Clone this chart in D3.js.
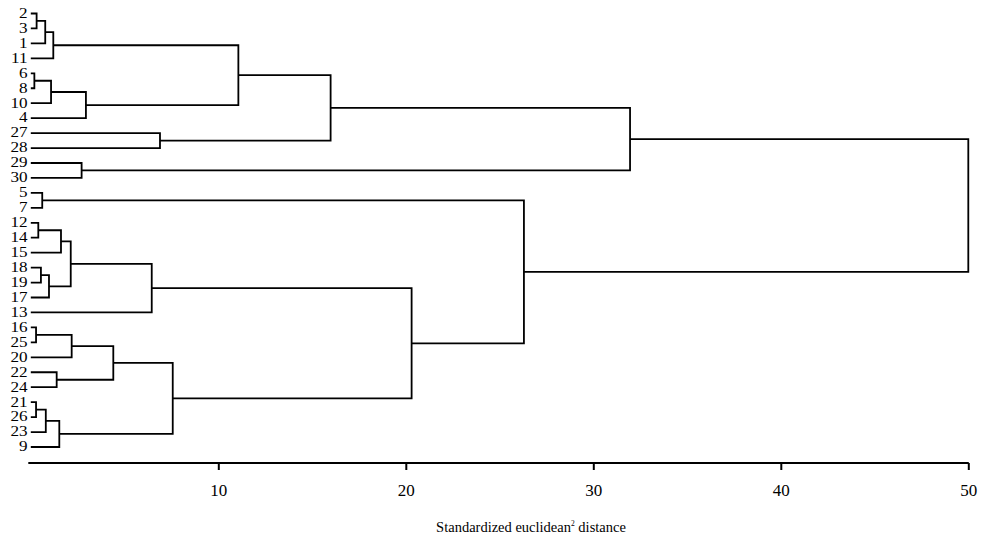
<!DOCTYPE html>
<html>
<head>
<meta charset="utf-8">
<script src="https://cdn.jsdelivr.net/npm/d3@7"></script>
<style>
  html, body { margin: 0; padding: 0; background: #fff; }
  svg { display: block; }
  svg text { font-family: "Liberation Serif", "Times New Roman", Times, "DejaVu Serif", serif; fill: #000; }
</style>
</head>
<body>
<svg id="chart" width="981" height="540"></svg>
<script>
// Leaf order (top to bottom)
const leafLabels = ["2","3","1","11","6","8","10","4","27","28","29","30","5","7",
  "12","14","15","18","19","17","13","16","25","20","22","24","21","26","23","9"];

// Agglomeration schedule: cluster id, first member, second member, distance
const mergeIds   = ["c1","c2","c3","c4","c5","c6","c7","c8","c9","c10","c11","c12","c13","c14","c15",
                    "c16","c17","c18","c19","c20","c21","c22","c23","c24","c25","c26","c27","c28","c29"];
const mergeLeft  = ["2","c1","c2","6","c4","c5","c3","27","c7","29","c9","5","12","c13","18",
                    "c15","c14","c17","16","c19","22","c20","21","c23","c24","c22","c18","c12","c11"];
const mergeRight = ["3","1","11","8","10","4","c6","28","c8","30","c10","7","14","15","19",
                    "17","c16","13","25","20","24","c21","26","23","9","c25","c26","c27","c28"];
const mergeDist  = [0.31,0.77,1.2,0.19,1.08,2.94,11.07,6.89,15.99,2.71,31.96,0.61,0.40,1.61,0.54,
                    0.97,2.13,6.45,0.28,2.18,1.38,4.40,0.28,0.80,1.52,7.57,20.31,26.30,50.0];

const tickValues = [10, 20, 30, 40, 50];
const axisTitle = "Standardized euclidean";
const axisTitleSup = "2";
const axisTitleEnd = " distance";

const FONT = '"Liberation Serif", "Times New Roman", Times, serif';
const svg = d3.select("#chart");

const x = d3.scaleLinear().domain([0, 50]).range([30.8, 968.3]);
const y = d3.scalePoint().domain(leafLabels).range([13.5, 447]);

// node positions
const pos = {};
leafLabels.forEach(l => { pos[l] = { h: 0, y: y(l) }; });
mergeIds.forEach((id, i) => {
  const a = pos[mergeLeft[i]], b = pos[mergeRight[i]];
  pos[id] = { h: mergeDist[i], y: (a.y + b.y) / 2, a, b };
});

// links
const g = svg.append("g");
g.selectAll("path.link")
  .data(mergeIds)
  .join("path")
  .attr("class", "link")
  .attr("fill", "none")
  .attr("stroke", "#000")
  .attr("stroke-width", 1.8)
  .attr("d", id => {
    const n = pos[id];
    return `M${x(n.a.h)},${n.a.y}H${x(n.h)}V${n.b.y}H${x(n.b.h)}`;
  });

// leaf labels (slightly widened like the reference)
g.selectAll("text.leaf")
  .data(leafLabels)
  .join("text")
  .attr("class", "leaf")
  .attr("font-family", FONT)
  .attr("transform", d => `translate(27.5,${y(d)}) scale(1.18,1)`)
  .attr("dy", "0.30em")
  .attr("text-anchor", "end")
  .attr("font-size", 14.5)
  .text(d => d);

// axis
const axisY = 463;
const axis = d3.axisBottom(x).tickValues(tickValues).tickSize(7).tickSizeOuter(0).tickFormat(d3.format("d"));
const ax = svg.append("g").attr("transform", `translate(0,${axisY})`).call(axis)
  .attr("font-family", FONT);
ax.select(".domain").attr("stroke", "#000").attr("stroke-width", 2)
  .attr("d", `M${x(0) - 2.5},0H${x(50) + 0.5}`);
ax.selectAll(".tick line").attr("stroke", "#000").attr("stroke-width", 2);
ax.selectAll(".tick text")
  .attr("y", 33).attr("dy", 0)
  .attr("font-size", 17)
  .attr("font-family", FONT)
  .attr("fill", "#000");

// axis title
const title = svg.append("text")
  .attr("font-family", FONT)
  .attr("x", 531)
  .attr("y", 532)
  .attr("text-anchor", "middle")
  .attr("font-size", 14.5);
title.append("tspan").text(axisTitle);
title.append("tspan").attr("font-size", 7.5).attr("dy", -6).text(axisTitleSup);
title.append("tspan").attr("dy", 6).text(axisTitleEnd);
</script>
</body>
</html>
